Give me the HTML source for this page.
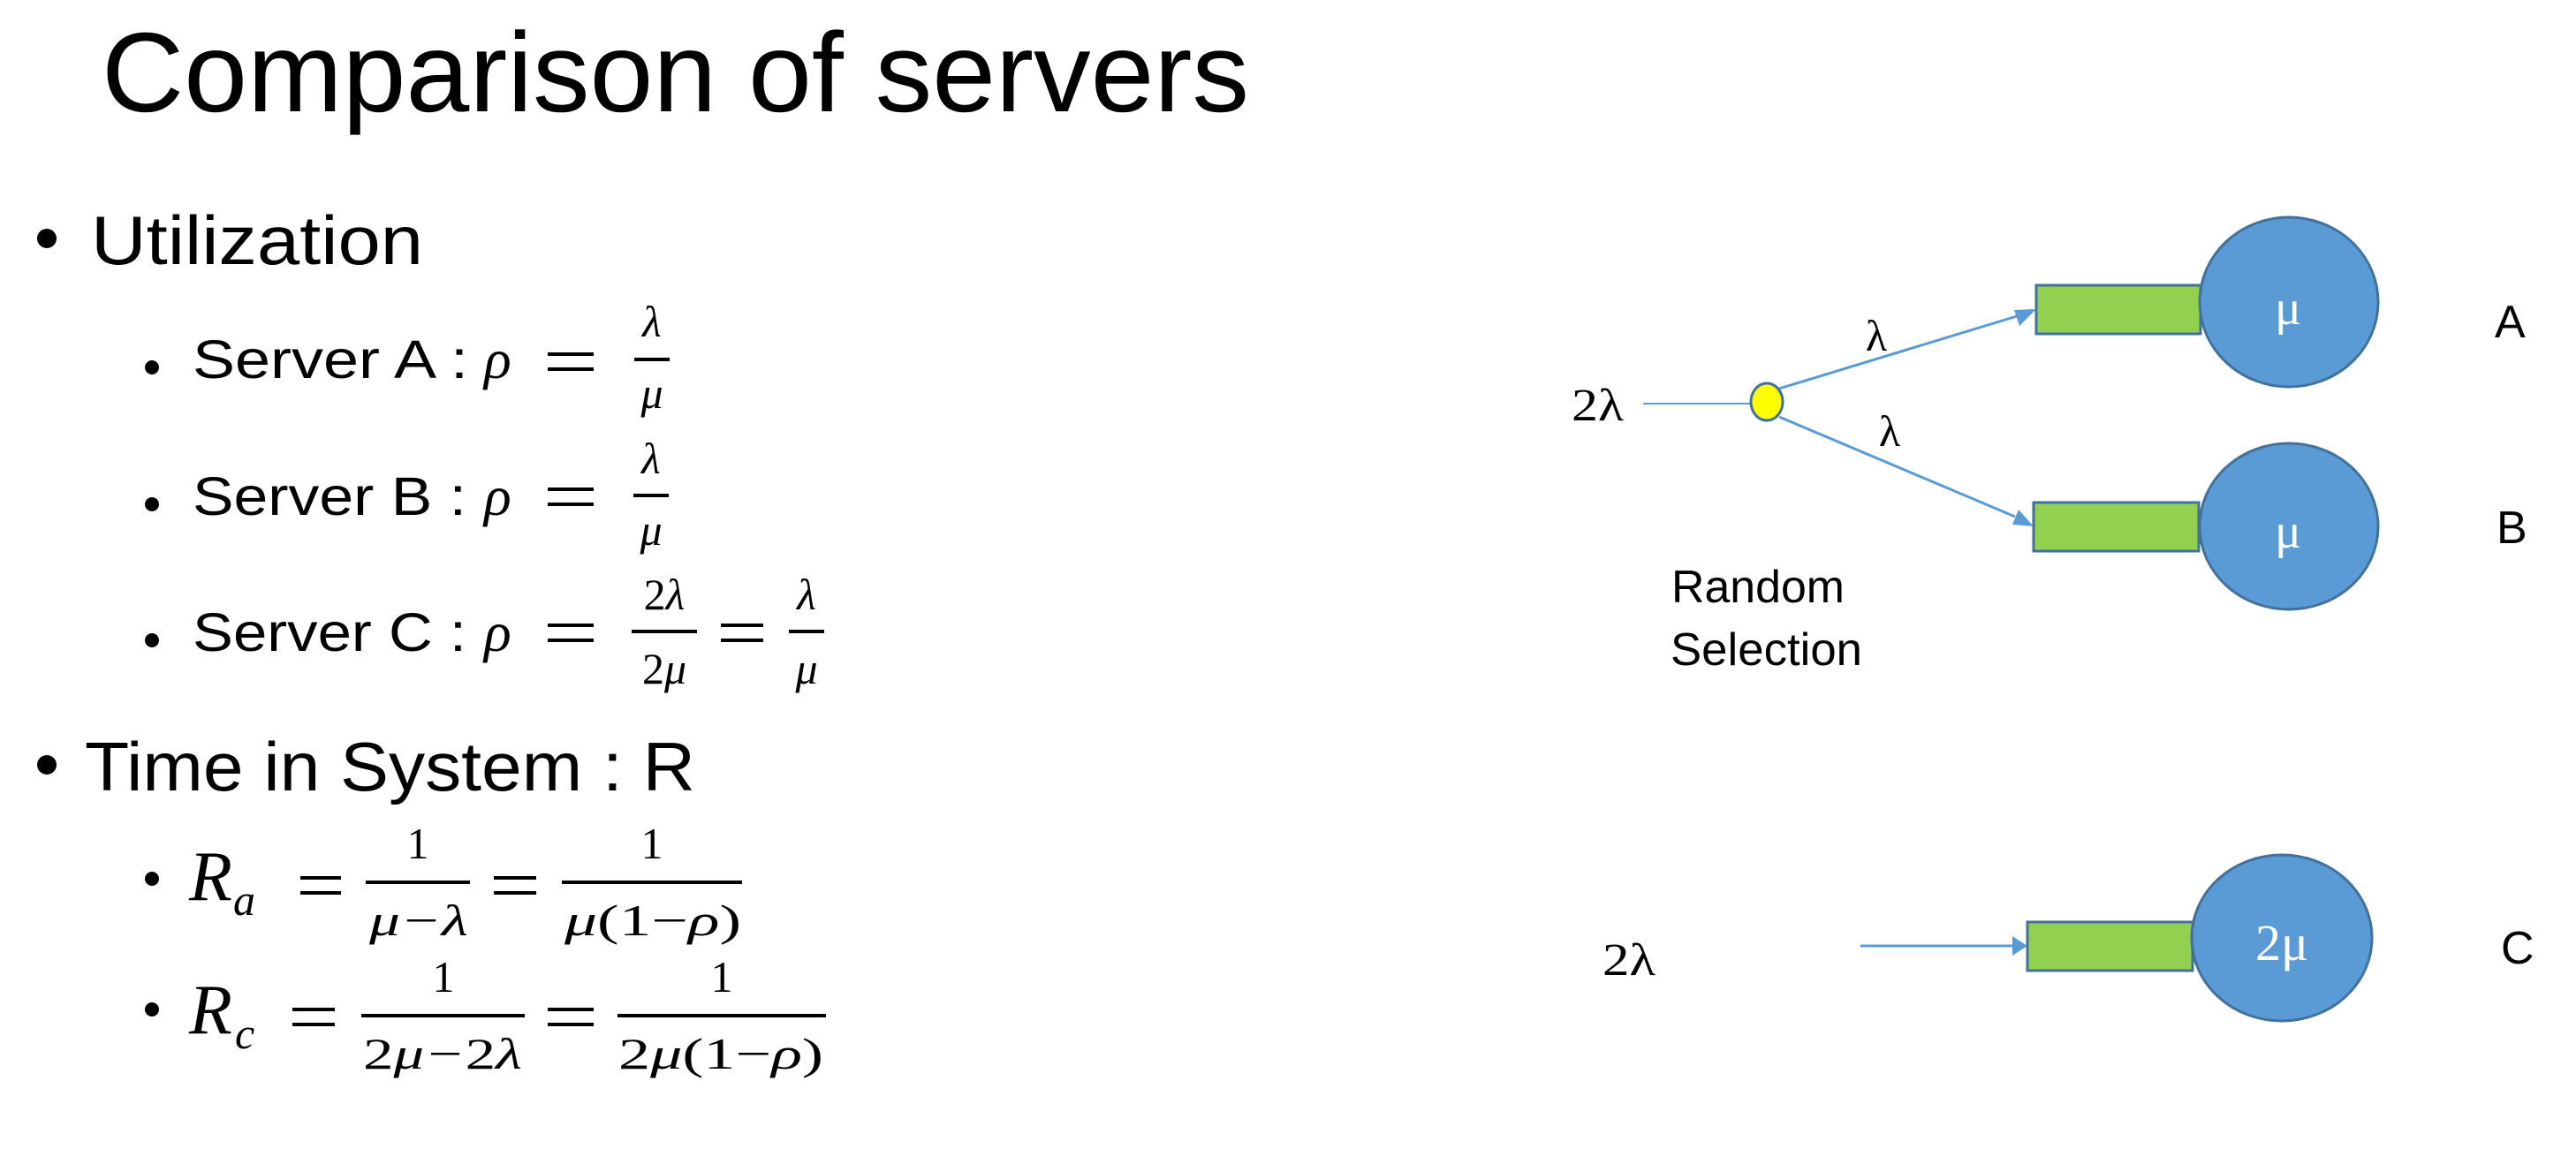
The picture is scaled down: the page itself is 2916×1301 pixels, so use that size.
<!DOCTYPE html>
<html><head><meta charset="utf-8"><style>
html,body{margin:0;padding:0;background:#fff;}
svg{display:block;}
.s{font-family:"Liberation Sans",sans-serif;fill:#000;}
.m{font-family:"Liberation Serif",serif;font-style:italic;fill:#000;}
.r{font-family:"Liberation Serif",serif;fill:#000;}
</style></head><body>
<svg width="2916" height="1301" viewBox="0 0 2916 1301" xmlns="http://www.w3.org/2000/svg">
<!-- Title -->
<text class="s" x="115" y="126" font-size="128" textLength="1299" lengthAdjust="spacingAndGlyphs">Comparison of servers</text>

<!-- Utilization -->
<circle cx="53" cy="270" r="11" fill="#000"/>
<text class="s" x="103" y="299" font-size="78" textLength="376" lengthAdjust="spacingAndGlyphs">Utilization</text>

<!-- Server A -->
<circle cx="172" cy="416" r="8" fill="#000"/>
<text class="s" x="218" y="428" font-size="61" textLength="312" lengthAdjust="spacingAndGlyphs">Server A :</text>
<text class="m" x="548" y="428" font-size="64">ρ</text>
<rect x="620" y="399" width="52" height="4" fill="#000"/><rect x="620" y="416" width="52" height="4" fill="#000"/>
<text class="m" x="738" y="381" font-size="50" text-anchor="middle">λ</text>
<rect x="718" y="405" width="40" height="4" fill="#000"/>
<text class="m" x="738" y="462" font-size="50" text-anchor="middle">μ</text>

<!-- Server B -->
<circle cx="172" cy="571" r="8" fill="#000"/>
<text class="s" x="218" y="583" font-size="61" textLength="310" lengthAdjust="spacingAndGlyphs">Server B :</text>
<text class="m" x="548" y="583" font-size="64">ρ</text>
<rect x="620" y="552" width="52" height="4" fill="#000"/><rect x="620" y="569" width="52" height="4" fill="#000"/>
<text class="m" x="737" y="536" font-size="50" text-anchor="middle">λ</text>
<rect x="717" y="559" width="40" height="4" fill="#000"/>
<text class="m" x="737" y="617" font-size="50" text-anchor="middle">μ</text>

<!-- Server C -->
<circle cx="172" cy="725" r="8" fill="#000"/>
<text class="s" x="218" y="737" font-size="61" textLength="310" lengthAdjust="spacingAndGlyphs">Server C :</text>
<text class="m" x="548" y="737" font-size="64">ρ</text>
<rect x="620" y="706" width="52" height="4" fill="#000"/><rect x="620" y="723" width="52" height="4" fill="#000"/>
<text class="r" x="752" y="690" font-size="50" text-anchor="middle">2<tspan font-style="italic">λ</tspan></text>
<rect x="715" y="713" width="74" height="4" fill="#000"/>
<text class="r" x="752" y="774" font-size="50" text-anchor="middle">2<tspan font-style="italic">μ</tspan></text>
<rect x="816" y="706" width="48" height="4" fill="#000"/><rect x="816" y="723" width="48" height="4" fill="#000"/>
<text class="m" x="913" y="690" font-size="50" text-anchor="middle">λ</text>
<rect x="893" y="713" width="40" height="4" fill="#000"/>
<text class="m" x="913" y="774" font-size="50" text-anchor="middle">μ</text>

<!-- Time in System -->
<circle cx="53" cy="866" r="11" fill="#000"/>
<text class="s" x="96" y="895" font-size="78" textLength="691" lengthAdjust="spacingAndGlyphs">Time in System : R</text>

<!-- R_a -->
<circle cx="172" cy="995" r="8" fill="#000"/>
<text class="m" x="214" y="1019" font-size="80">R</text>
<text class="m" x="264" y="1036" font-size="50">a</text>
<rect x="340" y="992" width="46" height="4" fill="#000"/><rect x="340" y="1009" width="46" height="4" fill="#000"/>
<text class="r" x="473" y="972" font-size="50" text-anchor="middle">1</text>
<rect x="414" y="997" width="118" height="4" fill="#000"/>
<text class="m" x="418" y="1059" font-size="50" textLength="112" lengthAdjust="spacingAndGlyphs">μ−λ</text>
<rect x="559" y="992" width="48" height="4" fill="#000"/><rect x="559" y="1009" width="48" height="4" fill="#000"/>
<text class="r" x="738" y="972" font-size="50" text-anchor="middle">1</text>
<rect x="636" y="997" width="204" height="4" fill="#000"/>
<text class="m" x="639" y="1059" font-size="50" textLength="200" lengthAdjust="spacingAndGlyphs">μ<tspan font-style="normal">(1−</tspan>ρ<tspan font-style="normal">)</tspan></text>

<!-- R_c -->
<circle cx="172" cy="1143" r="8" fill="#000"/>
<text class="m" x="214" y="1170" font-size="80">R</text>
<text class="m" x="266" y="1187" font-size="50">c</text>
<rect x="331" y="1141" width="48" height="4" fill="#000"/><rect x="331" y="1158" width="48" height="4" fill="#000"/>
<text class="r" x="502" y="1123" font-size="50" text-anchor="middle">1</text>
<rect x="409" y="1148" width="185" height="4" fill="#000"/>
<text class="m" x="411" y="1210" font-size="50" textLength="180" lengthAdjust="spacingAndGlyphs"><tspan font-style="normal">2</tspan>μ−<tspan font-style="normal">2</tspan>λ</text>
<rect x="620" y="1141" width="52" height="4" fill="#000"/><rect x="620" y="1158" width="52" height="4" fill="#000"/>
<text class="r" x="817" y="1123" font-size="50" text-anchor="middle">1</text>
<rect x="699" y="1148" width="236" height="4" fill="#000"/>
<text class="m" x="700" y="1210" font-size="50" textLength="232" lengthAdjust="spacingAndGlyphs"><tspan font-style="normal">2</tspan>μ<tspan font-style="normal">(1−</tspan>ρ<tspan font-style="normal">)</tspan></text>

<!-- Diagram top -->
<text class="r" x="1779" y="476" font-size="52" textLength="59" lengthAdjust="spacingAndGlyphs">2λ</text>
<line x1="1860" y1="457" x2="1982" y2="457" stroke="#5b9bd5" stroke-width="2"/>
<line x1="2014" y1="440" x2="2283" y2="358" stroke="#5b9bd5" stroke-width="3"/>
<polygon points="2305,350 2280,351 2286,369" fill="#5b9bd5"/>
<line x1="2014" y1="472" x2="2281" y2="585" stroke="#5b9bd5" stroke-width="3"/>
<polygon points="2302,596 2285,577 2278,594" fill="#5b9bd5"/>
<ellipse cx="2000" cy="455" rx="18" ry="21" fill="#ffff00" stroke="#41719c" stroke-width="3"/>
<text class="r" x="2124" y="397" font-size="50" text-anchor="middle">λ</text>
<text class="r" x="2139" y="505" font-size="50" text-anchor="middle">λ</text>

<rect x="2305" y="323" width="186" height="55" fill="#92d050" stroke="#41719c" stroke-width="3"/>
<ellipse cx="2591" cy="342" rx="101" ry="96" fill="#5b9bd5" stroke="#41719c" stroke-width="3"/>
<text class="r" x="2590" y="367" font-size="56" text-anchor="middle" style="fill:#fff">μ</text>
<text class="s" x="2824" y="382" font-size="52">A</text>

<rect x="2302" y="569" width="187" height="55" fill="#92d050" stroke="#41719c" stroke-width="3"/>
<ellipse cx="2591" cy="596" rx="101" ry="94" fill="#5b9bd5" stroke="#41719c" stroke-width="3"/>
<text class="r" x="2590" y="620" font-size="56" text-anchor="middle" style="fill:#fff">μ</text>
<text class="s" x="2826" y="615" font-size="52">B</text>

<text class="s" x="1892" y="682" font-size="52" textLength="196" lengthAdjust="spacingAndGlyphs">Random</text>
<text class="s" x="1891" y="753" font-size="52" textLength="217" lengthAdjust="spacingAndGlyphs">Selection</text>

<!-- Diagram bottom -->
<text class="r" x="1814" y="1104" font-size="52" textLength="60" lengthAdjust="spacingAndGlyphs">2λ</text>
<line x1="2106" y1="1071" x2="2280" y2="1071" stroke="#5b9bd5" stroke-width="3"/>
<polygon points="2295,1071 2278,1060 2278,1082" fill="#5b9bd5"/>
<rect x="2295" y="1044" width="187" height="55" fill="#92d050" stroke="#41719c" stroke-width="3"/>
<ellipse cx="2583" cy="1062" rx="102" ry="94" fill="#5b9bd5" stroke="#41719c" stroke-width="3"/>
<text class="r" x="2583" y="1087" font-size="58" text-anchor="middle" style="fill:#fff">2μ</text>
<text class="s" x="2831" y="1091" font-size="52">C</text>
</svg>
</body></html>
